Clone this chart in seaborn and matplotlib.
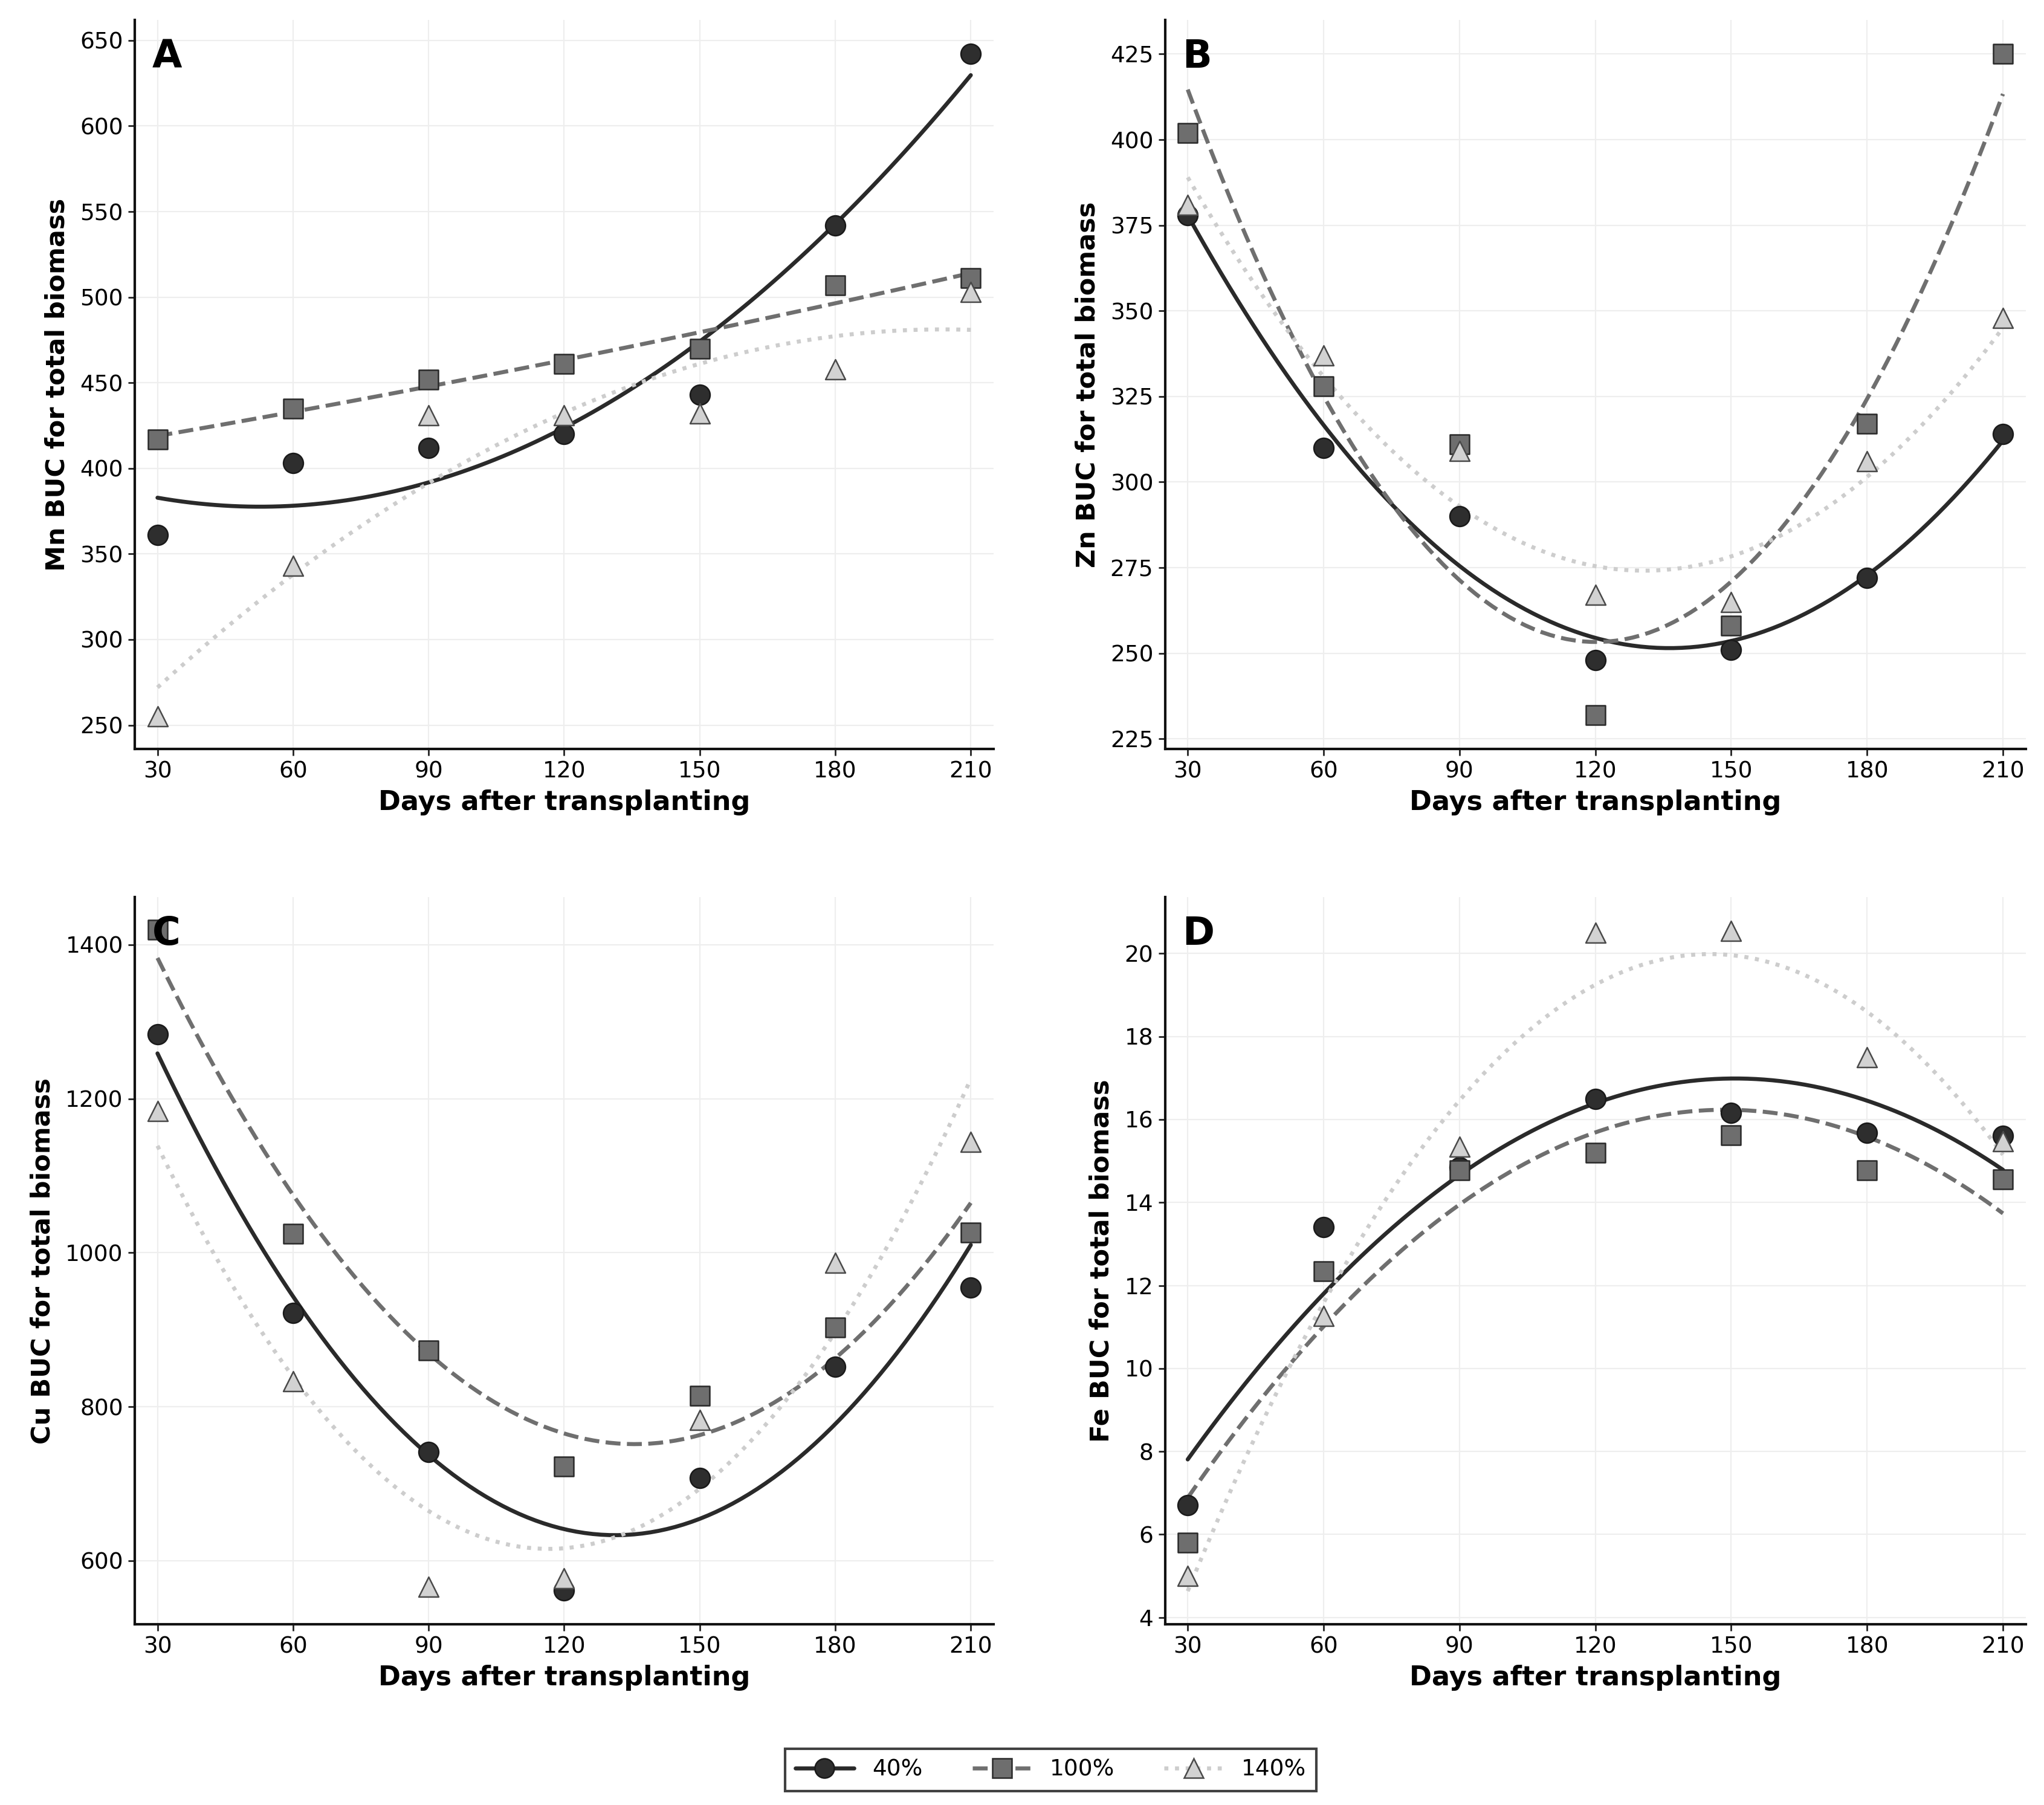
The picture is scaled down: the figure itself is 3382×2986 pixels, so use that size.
import numpy as np
import pandas as pd
import matplotlib
matplotlib.use('Agg')
import matplotlib.pyplot as plt
import seaborn as sns
from matplotlib.lines import Line2D

# ---------------- data ----------------
days = [30, 60, 90, 120, 150, 180, 210]
treatments = ['40%', '100%', '140%']

mn_40 = [361, 403, 412, 420, 443, 542, 642]
mn_100 = [417, 435, 452, 461, 470, 507, 511]
mn_140 = [255, 343, 431, 431, 432, 458, 503]

zn_40 = [378, 310, 290, 248, 251, 272, 314]
zn_100 = [402, 328, 311, 232, 258, 317, 425]
zn_140 = [381, 337, 309, 267, 265, 306, 348]

cu_40 = [1284, 922, 741, 561, 707, 852, 955]
cu_100 = [1420, 1025, 873, 722, 814, 903, 1026]
cu_140 = [1184, 833, 566, 577, 783, 987, 1144]

fe_40 = [6.7, 13.4, 14.85, 16.5, 16.16, 15.68, 15.6]
fe_100 = [5.8, 12.35, 14.78, 15.2, 15.62, 14.78, 14.56]
fe_140 = [5.0, 11.27, 15.34, 20.5, 20.55, 17.5, 15.47]

panel_letters = ['A', 'B', 'C', 'D']
y_labels = ['Mn BUC for total biomass', 'Zn BUC for total biomass',
            'Cu BUC for total biomass', 'Fe BUC for total biomass']
x_label = 'Days after transplanting'
y_ticks = [[250, 300, 350, 400, 450, 500, 550, 600, 650],
           [225, 250, 275, 300, 325, 350, 375, 400, 425],
           [600, 800, 1000, 1200, 1400],
           [4, 6, 8, 10, 12, 14, 16, 18, 20]]
y_lims = [(236, 662), (222, 435), (517, 1462), (3.83, 21.36)]
panels = [(mn_40, mn_100, mn_140), (zn_40, zn_100, zn_140),
          (cu_40, cu_100, cu_140), (fe_40, fe_100, fe_140)]

# ---------------- styles ----------------
line_color = {'40%': '#2a2a2a', '100%': '#6f6f6f', '140%': '#cdcdcd'}
line_style = {'40%': '-', '100%': '--', '140%': ':'}
marker = {'40%': 'o', '100%': 's', '140%': '^'}
face = {'40%': '#2e2e2e', '100%': '#6e6e6e', '140%': '#d2d2d2'}
edge = {'40%': '#1a1a1a', '100%': '#2a2a2a', '140%': '#4a4a4a'}

sns.set_theme(style='whitegrid')
plt.rcParams['font.family'] = ['DejaVu Sans']
plt.rcParams['text.color'] = 'black'
plt.rcParams['axes.labelcolor'] = 'black'
plt.rcParams['xtick.color'] = 'black'
plt.rcParams['ytick.color'] = 'black'

fig = plt.figure(figsize=(16.91, 14.93), dpi=200)
positions = [(0.066, 0.585, 0.420, 0.404),
             (0.570, 0.585, 0.421, 0.404),
             (0.066, 0.100, 0.420, 0.403),
             (0.570, 0.100, 0.421, 0.403)]

for i, pos in enumerate(positions):
    ax = fig.add_axes(pos)
    vals = panels[i]
    df = pd.DataFrame({
        'day': days * 3,
        'value': list(vals[0]) + list(vals[1]) + list(vals[2]),
        'treatment': [t for t in treatments for _ in days],
    })
    for t in treatments:
        sub = df[df['treatment'] == t]
        sns.regplot(data=sub, x='day', y='value', order=2, ci=None,
                    scatter=False, ax=ax, truncate=True,
                    line_kws=dict(color=line_color[t], ls=line_style[t],
                                  lw=2.4, zorder=2))
    for t in treatments:
        sub = df[df['treatment'] == t]
        sns.scatterplot(data=sub, x='day', y='value', ax=ax,
                        marker=marker[t], color=face[t], edgecolor=edge[t],
                        linewidth=0.9, s=140, zorder=3, legend=False)
    ax.set_xlim(25, 215)
    ax.set_ylim(*y_lims[i])
    ax.set_xticks(days)
    ax.set_yticks(y_ticks[i])
    ax.set_xlabel(x_label, fontsize=16, fontweight='bold', labelpad=4,
                  color='black')
    ax.set_ylabel(y_labels[i], fontsize=15.5, fontweight='bold', labelpad=6,
                  color='black')
    ax.tick_params(axis='both', labelsize=13.5, length=4, width=1.0,
                   color='#222222', labelcolor='black', left=True,
                   bottom=True, pad=3)
    ax.grid(True, color='#eeeeee', lw=0.8)
    ax.set_facecolor('white')
    for s in ['top', 'right']:
        ax.spines[s].set_visible(False)
    for s in ['left', 'bottom']:
        ax.spines[s].set_color('#111111')
        ax.spines[s].set_linewidth(1.5)
    ax.text(0.02, 0.975, panel_letters[i], transform=ax.transAxes,
            fontsize=23, fontweight='bold', va='top', ha='left', zorder=5,
            color='black')

handles = [Line2D([0], [0], color=line_color[t], ls=line_style[t], lw=2.4,
                  marker=marker[t], markerfacecolor=face[t],
                  markeredgecolor=edge[t], markersize=11.5,
                  markeredgewidth=0.9) for t in treatments]
leg = fig.legend(handles, treatments, loc='center',
                 bbox_to_anchor=(0.514, 0.0195), ncol=3, fontsize=13.5,
                 frameon=True, fancybox=False, edgecolor='#111111',
                 handlelength=2.6, columnspacing=2.2, borderpad=0.45)
leg.get_frame().set_linewidth(1.5)
for txt in leg.get_texts():
    txt.set_color('black')

fig.savefig('out.png', dpi=200, facecolor='white')
